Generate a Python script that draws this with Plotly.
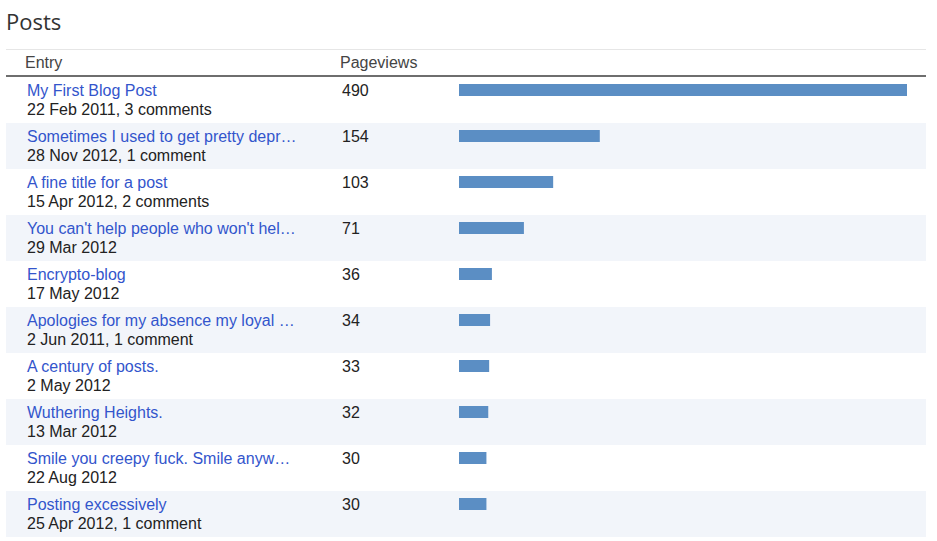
import plotly.graph_objects as go

W, H = 937, 541

titles = [
    "My First Blog Post",
    "Sometimes I used to get pretty depr…",
    "A fine title for a post",
    "You can't help people who won't hel…",
    "Encrypto-blog",
    "Apologies for my absence my loyal …",
    "A century of posts.",
    "Wuthering Heights.",
    "Smile you creepy fuck. Smile anyw…",
    "Posting excessively",
]
dates = [
    "22 Feb 2011", "28 Nov 2012", "15 Apr 2012", "29 Mar 2012", "17 May 2012",
    "2 Jun 2011", "2 May 2012", "13 Mar 2012", "22 Aug 2012", "25 Apr 2012",
]
comments = [3, 1, 2, 0, 0, 1, 0, 0, 0, 1]
pageviews = [490, 154, 103, 71, 36, 34, 33, 32, 30, 30]

rows = list(range(len(titles)))
ROW_PX = 46  # pixel height of one table row


def px_x(p):
    return p / W


def px_y(p):
    return 1 - p / H


fig = go.Figure()

# bars share the row index axis; offset puts them on the first text line
fig.add_trace(go.Bar(
    x=pageviews,
    y=rows,
    orientation="h",
    width=12 / ROW_PX,
    offset=-0.5 + 7 / ROW_PX,
    marker=dict(color="#5b8ec4", line=dict(width=0)),
    hoverinfo="x",
))

shapes = []
annotations = []

# alternating row shading
for i in rows:
    if i % 2 == 1:
        shapes.append(dict(
            type="rect", xref="paper", yref="y",
            x0=px_x(6), x1=px_x(926), y0=i - 0.5, y1=i + 0.5,
            fillcolor="#f2f5fa", line=dict(width=0), layer="below",
        ))

# header rules
shapes.append(dict(type="line", xref="paper", yref="paper",
                   x0=px_x(6), x1=px_x(926), y0=px_y(49.5), y1=px_y(49.5),
                   line=dict(color="#e6e6e6", width=1)))
shapes.append(dict(type="line", xref="paper", yref="paper",
                   x0=px_x(6), x1=px_x(926), y0=px_y(76), y1=px_y(76),
                   line=dict(color="#6e6e6e", width=2)))

body_font = dict(family="Liberation Sans, Arial, sans-serif", size=16)

for i in rows:
    n = comments[i]
    sub = dates[i]
    if n:
        sub += f", {n} comment" + ("s" if n > 1 else "")
    annotations.append(dict(
        x=px_x(25), xref="paper", y=i - 0.5 + 13.5 / ROW_PX, yref="y",
        text=titles[i], showarrow=False, xanchor="left", yanchor="middle",
        font=dict(body_font, color="#3355cc"),
    ))
    annotations.append(dict(
        x=px_x(25), xref="paper", y=i - 0.5 + 32.5 / ROW_PX, yref="y",
        text=sub, showarrow=False, xanchor="left", yanchor="middle",
        font=dict(body_font, color="#222222"),
    ))
    annotations.append(dict(
        x=px_x(340), xref="paper", y=i - 0.5 + 13.5 / ROW_PX, yref="y",
        text=str(pageviews[i]), showarrow=False, xanchor="left", yanchor="middle",
        font=dict(body_font, color="#222222"),
    ))

header_font = dict(family="Liberation Sans, Arial, sans-serif", size=16, color="#444444")
annotations.append(dict(x=px_x(23), xref="paper", y=px_y(62), yref="paper",
                        text="Entry", showarrow=False, xanchor="left",
                        yanchor="middle", font=header_font))
annotations.append(dict(x=px_x(338), xref="paper", y=px_y(62), yref="paper",
                        text="Pageviews", showarrow=False, xanchor="left",
                        yanchor="middle", font=header_font))
annotations.append(dict(x=px_x(4), xref="paper", y=px_y(21), yref="paper",
                        text="Posts", showarrow=False, xanchor="left",
                        yanchor="middle",
                        font=dict(family="Open Sans, sans-serif", size=22,
                                  color="#333333")))

fig.update_layout(
    width=W, height=H,
    margin=dict(l=0, r=0, t=0, b=0),
    paper_bgcolor="white",
    plot_bgcolor="rgba(0,0,0,0)",
    showlegend=False,
    shapes=shapes,
    annotations=annotations,
    xaxis=dict(domain=[px_x(459), px_x(907)], range=[0, max(pageviews)],
               visible=False, fixedrange=True),
    yaxis=dict(domain=[1 - 537 / H, 1 - 77 / H],
               range=[len(rows) - 0.5, -0.5],
               visible=False, fixedrange=True),
)

# drop the browser's default body margin so the figure sits at the page corner
fig.write_html("out.html", config={"displayModeBar": False},
               post_script="document.body.style.margin='0';")
